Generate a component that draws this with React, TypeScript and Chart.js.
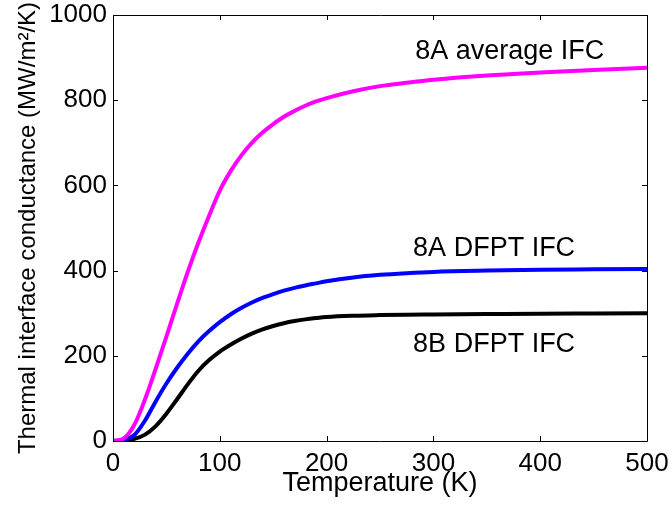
import React, { useEffect, useRef } from "react";
import { Chart, registerables } from "chart.js";

Chart.register(...registerables);

const temps = [0, 10, 20, 30, 40, 50, 60, 70, 80, 90, 100, 110, 120, 130, 140, 150, 160, 170, 180, 190, 200, 225, 250, 275, 300, 350, 400, 450, 500];
const avgIFC8A = [0, 6, 38, 98, 170, 245, 322, 397, 466, 529, 588, 633, 670, 700, 724, 744, 761, 775, 787, 797, 805, 821, 833, 841, 848, 858, 865, 871, 876];
const dfptIFC8A = [0, 2, 14, 48, 93, 135, 172, 205, 234, 258, 279, 297, 312, 325, 336, 345, 353, 359.5, 365, 370, 375, 384, 390, 394, 397, 400, 402, 403, 404];
const dfptIFC8B = [0, 1, 5, 15, 35, 64, 98, 133, 165, 190, 210, 226, 240, 252, 262, 270, 276.5, 281.5, 285.5, 288.5, 291, 294, 295.5, 296.5, 297, 298, 299, 299.5, 300];

const seriesNames = ["8A average IFC", "8A DFPT IFC", "8B DFPT IFC"];
const seriesColors = ["#ff00ff", "#0000ff", "#000000"];
const labelX = [283, 281, 281];
const labelY = [897, 434, 209];

const xTicks = [0, 100, 200, 300, 400, 500];
const yTicks = [0, 200, 400, 600, 800, 1000];

const FONT = "'Liberation Sans', Arial, Helvetica, sans-serif";

export default function App() {
  const ref = useRef<HTMLCanvasElement | null>(null);

  useEffect(() => {
    document.body.style.margin = "0";
    const canvas = ref.current;
    if (!canvas) return;

    const boxPlugin = {
      id: "boxPlugin",
      afterDatasetsDraw(chart: any) {
        const { ctx, chartArea } = chart;
        const { left, right, top, bottom } = chartArea;
        const xs = chart.scales.x;
        const ys = chart.scales.y;
        ctx.save();
        ctx.strokeStyle = "#000";
        ctx.lineWidth = 1;
        ctx.beginPath();
        ctx.rect(Math.round(left) + 0.5, Math.round(top) + 0.5, Math.round(right - left), Math.round(bottom - top));
        ctx.stroke();
        const tl = 5;
        ctx.beginPath();
        xTicks.forEach((t) => {
          const px = Math.round(xs.getPixelForValue(t)) + 0.5;
          ctx.moveTo(px, bottom);
          ctx.lineTo(px, bottom - tl);
          ctx.moveTo(px, top);
          ctx.lineTo(px, top + tl);
        });
        yTicks.forEach((t) => {
          const py = Math.round(ys.getPixelForValue(t)) + 0.5;
          ctx.moveTo(left, py);
          ctx.lineTo(left + tl, py);
          ctx.moveTo(right, py);
          ctx.lineTo(right - tl, py);
        });
        ctx.stroke();
        ctx.fillStyle = "#000";
        ctx.font = `27px ${FONT}`;
        ctx.textAlign = "left";
        ctx.textBaseline = "alphabetic";
        seriesNames.forEach((name, i) => {
          ctx.fillText(name, xs.getPixelForValue(labelX[i]), ys.getPixelForValue(labelY[i]));
        });
        ctx.restore();
      },
    };

    const zeroPad = (s: any) => {
      s.paddingTop = 0;
      s.paddingBottom = 0;
      s.paddingLeft = 0;
      s.paddingRight = 0;
    };

    const chart = new Chart(canvas, {
      type: "line",
      data: {
        datasets: [avgIFC8A, dfptIFC8A, dfptIFC8B].map((vals, i) => ({
          label: seriesNames[i],
          data: temps.map((t, j) => ({ x: t, y: vals[j] })),
          borderColor: seriesColors[i],
          backgroundColor: seriesColors[i],
          borderWidth: 4,
          pointRadius: 0,
          cubicInterpolationMode: "monotone" as const,
          fill: false,
        })),
      },
      options: {
        responsive: false,
        animation: false,
        layout: { padding: { left: 0, top: 15, right: 24, bottom: 0 } },
        plugins: { legend: { display: false }, tooltip: { enabled: false } },
        scales: {
          x: {
            type: "linear",
            min: 0,
            max: 500,
            afterFit: (s: any) => {
              s.height = 67;
              zeroPad(s);
            },
            afterBuildTicks: (s: any) => {
              s.ticks = xTicks.map((v) => ({ value: v }));
            },
            grid: { display: false, drawTicks: false },
            border: { display: false },
            ticks: {
              color: "#000",
              font: { family: FONT, size: 26 },
              padding: 7,
              maxRotation: 0,
              callback: (v: any) => String(v),
            },
            title: {
              display: true,
              text: "Temperature (K)",
              color: "#000",
              font: { family: FONT, size: 27 },
              padding: { top: 0, bottom: 8 },
            },
          },
          y: {
            type: "linear",
            min: 0,
            max: 1000,
            afterFit: (s: any) => {
              s.width = 113;
              zeroPad(s);
            },
            afterBuildTicks: (s: any) => {
              s.ticks = yTicks.map((v) => ({ value: v }));
            },
            grid: { display: false, drawTicks: false },
            border: { display: false },
            ticks: {
              color: "#000",
              font: { family: FONT, size: 26 },
              padding: 6,
              callback: (v: any) => String(v),
            },
            title: {
              display: true,
              text: "Thermal interface conductance (MW/m²/K)",
              color: "#000",
              font: { family: FONT, size: 24 },
              padding: { top: 14, bottom: 0 },
            },
          },
        },
      },
      plugins: [boxPlugin],
    });

    return () => chart.destroy();
  }, []);

  return (
    <div style={{ position: "absolute", left: 0, top: 0, width: 671, height: 508, background: "#fff" }}>
      <canvas ref={ref} width={671} height={508} style={{ display: "block", width: 671, height: 508 }} />
    </div>
  );
}
